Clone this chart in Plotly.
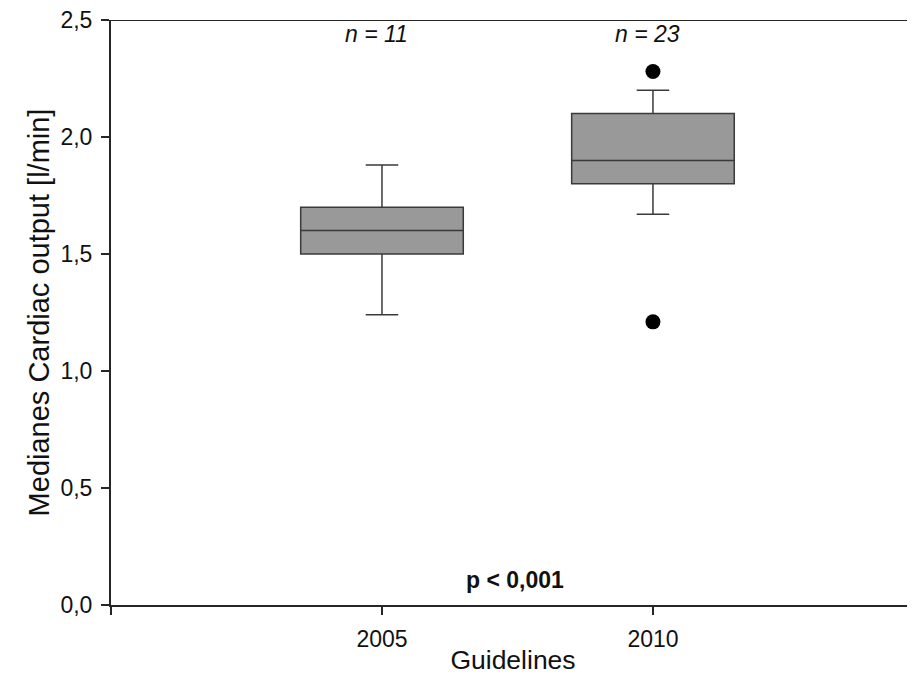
import plotly.graph_objects as go

# ---- data ----
categories = ["2005", "2010"]
cat_pos = [0, 1]
q1 = [1.50, 1.80]
median = [1.60, 1.90]
q3 = [1.70, 2.10]
lower_whisker = [1.24, 1.67]
upper_whisker = [1.88, 2.20]
outlier_x = [1, 1]
outlier_y = [2.28, 1.21]
n_labels = ["n = 11", "n = 23"]
y_tickvals = [0.0, 0.5, 1.0, 1.5, 2.0, 2.5]
y_ticktext = ["0,0", "0,5", "1,0", "1,5", "2,0", "2,5"]
p_text = "p < 0,001"

FONT = "Arial, Liberation Sans, sans-serif"
LINE = "#262626"

fig = go.Figure()
fig.add_trace(go.Box(
    x=cat_pos, q1=q1, median=median, q3=q3,
    lowerfence=lower_whisker, upperfence=upper_whisker,
    width=0.6, whiskerwidth=0.2,
    fillcolor="#999999",
    line=dict(color="#3a3a3a", width=1.5),
    boxpoints=False, showlegend=False, hoverinfo="skip",
))
fig.add_trace(go.Scatter(
    x=outlier_x, y=outlier_y, mode="markers",
    marker=dict(color="black", size=15),
    showlegend=False, hoverinfo="skip",
))

for xp, txt in zip(cat_pos, n_labels):
    fig.add_annotation(x=xp - 0.02, y=2.44, xref="x", yref="y", text=f"<i>{txt}</i>",
                       showarrow=False, font=dict(family=FONT, size=23, color="#111"))
fig.add_annotation(x=0.49, y=0.105, xref="x", yref="y", text=f"<b>{p_text}</b>",
                   showarrow=False, font=dict(family=FONT, size=23, color="#111"))

# top frame line
fig.add_shape(type="line", xref="paper", yref="y", x0=0, x1=1, y0=2.5, y1=2.5,
              line=dict(color=LINE, width=2))

fig.update_layout(
    width=907, height=667,
    margin=dict(l=103, r=0, t=12, b=70),
    plot_bgcolor="white", paper_bgcolor="white",
    font=dict(family=FONT, color="#111"),
)
fig.update_xaxes(
    range=[-1, 1.967], tickvals=[-1] + cat_pos, ticktext=[""] + categories,
    showline=True, linecolor=LINE, linewidth=2,
    ticks="outside", ticklen=8, tickwidth=1.5, tickcolor=LINE,
    tickfont=dict(family=FONT, size=23, color="#111"), ticklabelstandoff=4,
    showgrid=False, zeroline=False,
    title=dict(text="Guidelines", font=dict(family=FONT, size=26.5, color="#111"), standoff=0),
)
fig.update_yaxes(
    range=[0, 2.5], tickvals=y_tickvals, ticktext=y_ticktext,
    showline=True, linecolor=LINE, linewidth=2,
    ticks="outside", ticklen=8, tickwidth=1.5, tickcolor=LINE,
    tickfont=dict(family=FONT, size=23, color="#111"), ticklabelstandoff=4,
    ticklabeloverflow="allow",
    showgrid=False, zeroline=False,
    title=dict(text="Medianes Cardiac output [l/min]", font=dict(family=FONT, size=29, color="#111"), standoff=2),
)

fig.write_html("out.html")
